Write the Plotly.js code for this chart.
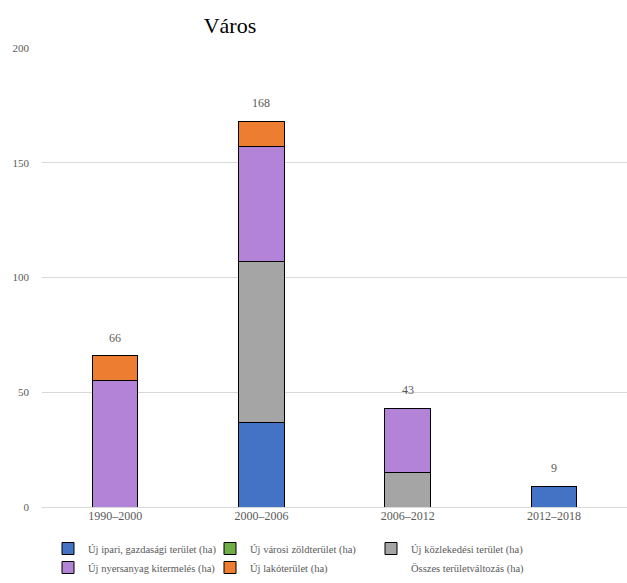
<!DOCTYPE html>
<html>
<head>
<meta charset="utf-8">
<script src="https://cdn.plot.ly/plotly-3.0.1.min.js"></script>
<style>html,body{margin:0;padding:0;background:#fff;}#chart{width:627px;height:583px;}</style>
</head>
<body>
<div id="chart"></div>
<script>
const categories = ['1990–2000', '2000–2006', '2006–2012', '2012–2018'];
const ipari = [0, 37, 0, 9];
const zold = [0, 0, 0, 0];
const kozlekedesi = [0, 70, 15, 0];
const nyersanyag = [55, 50, 28, 0];
const lako = [11, 11, 0, 0];
const osszes = [66, 168, 43, 9];

const names = {
  ipari: 'Új ipari, gazdasági terület (ha)',
  zold: 'Új városi zöldterület (ha)',
  kozl: 'Új közlekedési terület (ha)',
  nyers: 'Új nyersanyag kitermelés (ha)',
  lako: 'Új lakóterület (ha)',
  ossz: 'Összes területváltozás (ha)'
};

const font = 'Liberation Serif';
const bw = 0.31;
function bar(y, name, color, legend) {
  return {type: 'bar', x: categories, y: y, name: name, width: bw, legend: legend,
    marker: {color: color, line: {color: '#000', width: 1}}, hoverinfo: 'y+name'};
}
const traces = [
  bar(ipari, names.ipari, '#4472C4', 'legend'),
  bar(zold, names.zold, '#70AD47', 'legend2'),
  bar(kozlekedesi, names.kozl, '#A5A5A5', 'legend3'),
  bar(nyersanyag, names.nyers, '#B383D8', 'legend'),
  bar(lako, names.lako, '#ED7D31', 'legend2'),
  {type: 'bar', x: categories, y: categories.map(() => 0), name: names.ossz, width: bw, legend: 'legend3',
    marker: {color: 'rgba(0,0,0,0)', line: {width: 0}}, hoverinfo: 'skip'}
];

const annotations = categories.map((c, i) => ({
  x: c, y: osszes[i], xref: 'x', yref: 'y', text: String(osszes[i]),
  showarrow: false, yanchor: 'bottom', yshift: 9,
  font: {family: font, size: 12, color: '#595959'}
}));

const legendBase = {
  orientation: 'v', xref: 'container', yref: 'container', xanchor: 'left', yanchor: 'top',
  y: 1 - 534 / 583, font: {family: font, size: 10.5, color: '#595959'},
  bgcolor: 'rgba(0,0,0,0)', itemwidth: 30, tracegroupgap: 0, traceorder: 'normal'
};

const layout = {
  width: 627, height: 583,
  margin: {l: 42, r: 0, t: 48, b: 76, autoexpand: false},
  paper_bgcolor: '#fff', plot_bgcolor: '#fff',
  barmode: 'stack',
  font: {family: font, color: '#595959'},
  title: {text: 'Város', x: 230 / 627, xanchor: 'center', xref: 'container', yref: 'container',
    y: 1 - 25 / 583, yanchor: 'middle', font: {family: font, size: 22, color: '#000'}},
  xaxis: {type: 'category', showgrid: false, zeroline: false, showline: false, ticks: '',
    tickfont: {family: font, size: 12, color: '#595959'}},
  yaxis: {range: [0, 200], dtick: 50, showgrid: true, gridcolor: '#d9d9d9', gridwidth: 1,
    zeroline: true, zerolinecolor: '#d9d9d9', showline: false, ticks: '',
    tickfont: {family: font, size: 11, color: '#595959'}, ticklabelstandoff: 12},
  showlegend: true,
  legend: Object.assign({}, legendBase, {x: 48 / 627}),
  legend2: Object.assign({}, legendBase, {x: 210 / 627}),
  legend3: Object.assign({}, legendBase, {x: 371 / 627}),
  annotations: annotations
};

Plotly.newPlot('chart', traces, layout, {displayModeBar: false, staticPlot: true});
</script>
</body>
</html>
